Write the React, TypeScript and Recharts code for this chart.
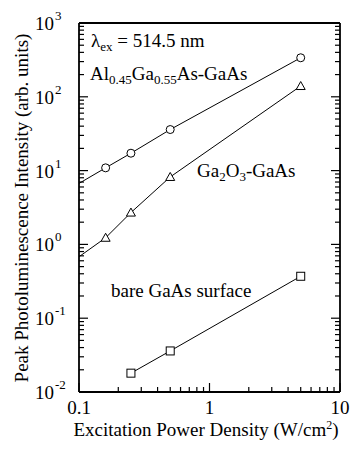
import { ScatterChart, Scatter, XAxis, YAxis } from 'recharts';

// excitation power density (W/cm^2)
const powerX = [0.16, 0.25, 0.5, 5];
const bareX = [0.25, 0.5, 5];

// peak PL intensity (arb. units)
const alGaAsY = [10.9, 17.2, 36, 338];
const ga2o3Y = [1.23, 2.7, 8.2, 140];
const bareY = [0.018, 0.036, 0.37];

// where the drawn lines start on the left edge
const lineStartX = 0.1;
const alGaAsStartY = 6.7;
const ga2o3StartY = 0.68;

const xMajor = [0.1, 1, 10];
const yMajor = [0.01, 0.1, 1, 10, 100, 1000];
const mults = [2, 3, 4, 5, 6, 7, 8, 9];

const xTicks = [
  0.1,
  ...mults.map((m) => m * 0.1),
  1,
  ...mults.map((m) => m),
  10,
];
const yTicks: number[] = [];
yMajor.forEach((d, i) => {
  yTicks.push(d);
  if (i < yMajor.length - 1) mults.forEach((m) => yTicks.push(+(d * m).toPrecision(3)));
});

const toPts = (xs: number[], ys: number[]) => xs.map((x, i) => ({ x, y: ys[i] }));

const alGaAsPts = toPts(powerX, alGaAsY);
const ga2o3Pts = toPts(powerX, ga2o3Y);
const barePts = toPts(bareX, bareY);
const alGaAsLine = [{ x: lineStartX, y: alGaAsStartY }, ...alGaAsPts];
const ga2o3Line = [{ x: lineStartX, y: ga2o3StartY }, ...ga2o3Pts];

const FONT = '"Liberation Serif", "Times New Roman", serif';
const MAJ = 9;
const MIN = 5;

const isMajor = (v: number, majors: number[]) => majors.some((m) => Math.abs(m - v) / m < 1e-6);

function LeftTick({ x, y, payload }: any) {
  const v = payload.value;
  const major = isMajor(v, yMajor);
  const exp = Math.round(Math.log10(v));
  return (
    <g>
      <line x1={x} x2={x + (major ? MAJ : MIN)} y1={y} y2={y} stroke="#000" strokeWidth={1.2} />
      {major && (
        <text x={35} y={y + 7} fontFamily={FONT} fontSize={19} fill="#000">
          10
          <tspan dx={1} dy={-10} fontSize={13}>{exp < 0 ? `-${-exp}` : exp}</tspan>
        </text>
      )}
    </g>
  );
}

function RightTick({ x, y, payload }: any) {
  const major = isMajor(payload.value, yMajor);
  return <line x1={x - (major ? MAJ : MIN)} x2={x} y1={y} y2={y} stroke="#000" strokeWidth={1.2} />;
}

function BottomTick({ x, y, payload }: any) {
  const v = payload.value;
  const major = isMajor(v, xMajor);
  return (
    <g>
      <line x1={x} x2={x} y1={y - (major ? MAJ : MIN)} y2={y} stroke="#000" strokeWidth={1.2} />
      {major && (
        <text x={x} y={y + 22} textAnchor="middle" fontFamily={FONT} fontSize={19} fill="#000">
          {v}
        </text>
      )}
    </g>
  );
}

function TopTick({ x, y, payload }: any) {
  const major = isMajor(payload.value, xMajor);
  return <line x1={x} x2={x} y1={y} y2={y + (major ? MAJ : MIN)} stroke="#000" strokeWidth={1.2} />;
}

const Circle = ({ cx, cy }: any) => <circle cx={cx} cy={cy} r={4} fill="#fff" stroke="#000" strokeWidth={1} />;
const Triangle = ({ cx, cy }: any) => (
  <polygon
    points={`${cx},${cy - 4.5} ${cx - 4.5},${cy + 3.5} ${cx + 4.5},${cy + 3.5}`}
    fill="#fff"
    stroke="#000"
    strokeWidth={1}
  />
);
const Square = ({ cx, cy }: any) => (
  <rect x={cx - 4} y={cy - 4} width={8} height={8} fill="#fff" stroke="#000" strokeWidth={1} />
);
const NoDot = () => <g />;

export default function App() {
  const axisLine = { stroke: '#000', strokeWidth: 1.8 };
  const common = {
    type: 'number' as const,
    scale: 'log' as const,
    allowDataOverflow: true,
    interval: 0 as const,
    tickSize: 0,
    tickMargin: 0,
    tickLine: false,
    axisLine,
  };
  return (
    <div style={{ position: 'absolute', left: 0, top: 0, background: '#fff' }}>
      <ScatterChart width={351} height={453} margin={{ top: 22, right: 10, bottom: 60, left: 78 }}>
        <XAxis {...common} dataKey="x" domain={[0.1, 10]} ticks={xTicks} height={1} tick={<BottomTick />} />
        <XAxis {...common} xAxisId="top" orientation="top" domain={[0.1, 10]} ticks={xTicks} height={1} tick={<TopTick />} />
        <YAxis {...common} dataKey="y" domain={[0.01, 1000]} ticks={yTicks} width={1} tick={<LeftTick />} />
        <YAxis {...common} yAxisId="right" orientation="right" domain={[0.01, 1000]} ticks={yTicks} width={1} tick={<RightTick />} />

        <Scatter data={alGaAsLine} line={{ stroke: '#000', strokeWidth: 1 }} shape={<NoDot />} isAnimationActive={false} />
        <Scatter data={ga2o3Line} line={{ stroke: '#000', strokeWidth: 1 }} shape={<NoDot />} isAnimationActive={false} />
        <Scatter data={barePts} line={{ stroke: '#000', strokeWidth: 1 }} shape={<NoDot />} isAnimationActive={false} />
        <Scatter data={alGaAsPts} shape={<Circle />} isAnimationActive={false} />
        <Scatter data={ga2o3Pts} shape={<Triangle />} isAnimationActive={false} />
        <Scatter data={barePts} shape={<Square />} isAnimationActive={false} />

        <text x={91} y={47} fontFamily={FONT} fontSize={19} fill="#000">
          λ<tspan dy={4} fontSize={13}>ex</tspan>
          <tspan dy={-4}> = 514.5 nm</tspan>
        </text>
        <text x={90} y={80} fontFamily={FONT} fontSize={19} fill="#000">
          Al<tspan dy={4} fontSize={13}>0.45</tspan>
          <tspan dy={-4}>Ga</tspan>
          <tspan dy={4} fontSize={13}>0.55</tspan>
          <tspan dy={-4}>As-GaAs</tspan>
        </text>
        <text x={197} y={177} fontFamily={FONT} fontSize={19} fill="#000">
          Ga<tspan dy={4} fontSize={13}>2</tspan>
          <tspan dy={-4}>O</tspan>
          <tspan dy={4} fontSize={13}>3</tspan>
          <tspan dy={-4}>-GaAs</tspan>
        </text>
        <text x={111} y={297} fontFamily={FONT} fontSize={19} fill="#000">
          bare GaAs surface
        </text>

        <text x={206} y={436} textAnchor="middle" fontFamily={FONT} fontSize={19} fill="#000">
          Excitation Power Density (W/cm<tspan dy={-7} fontSize={12}>2</tspan>
          <tspan dy={7}>)</tspan>
        </text>
        <text
          x={28}
          y={208}
          transform="rotate(-90 28 208)"
          textAnchor="middle"
          fontFamily={FONT}
          fontSize={19}
          fill="#000"
        >
          Peak Photoluminescence Intensity (arb. units)
        </text>
      </ScatterChart>
    </div>
  );
}
